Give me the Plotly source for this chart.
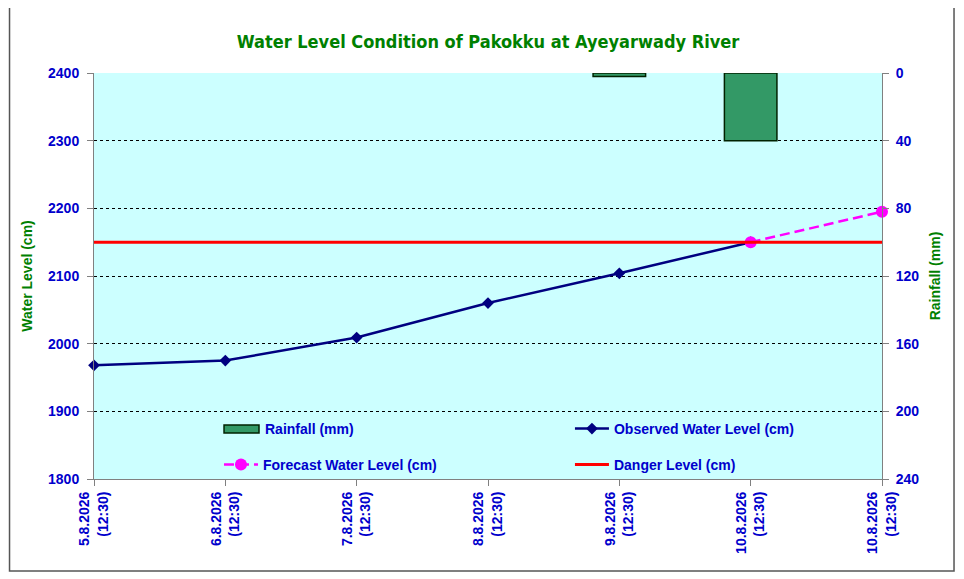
import plotly.graph_objects as go

# Data
dates = ["5.8.2026", "6.8.2026", "7.8.2026", "8.8.2026", "9.8.2026", "10.8.2026", "10.8.2026"]
times = ["(12:30)"] * 7
x_pos = [0, 1, 2, 3, 4, 5, 6]

observed_x = [0, 1, 2, 3, 4, 5]
observed_level = [1968, 1975, 2009, 2060, 2104, 2150]

forecast_x = [5, 6]
forecast_level = [2150, 2195]

rain_x = [4, 5]
rainfall = [2, 40]

danger_x = [0, 6]
danger_level = [2150, 2150]

tick_text = [f"{d}<br>{t}" for d, t in zip(dates, times)]

BLUE = "#0000CC"
GREEN = "#008000"
FONT = "Liberation Sans, Arial, sans-serif"
BAR_FILL = "#339966"
BAR_EDGE = "#002200"

fig = go.Figure()

# Rainfall bars hanging from the top (reversed right axis)
fig.add_trace(go.Bar(
    x=rain_x, y=rainfall, yaxis="y2", name="Rainfall (mm)",
    width=0.4, showlegend=False,
    marker=dict(color=BAR_FILL, line=dict(color=BAR_EDGE, width=1.5)),
))

fig.add_trace(go.Scatter(
    x=observed_x, y=observed_level, mode="lines+markers",
    name="Observed Water Level (cm)",
    line=dict(color="#000080", width=2.5),
    marker=dict(symbol="diamond", size=9, color="#000080"),
    cliponaxis=False,
    legend="legend",
))

fig.add_trace(go.Scatter(
    x=forecast_x, y=forecast_level, mode="lines+markers",
    name="Forecast Water Level (cm)",
    line=dict(color="#FF00FF", width=2.5, dash="10px,5px"),
    marker=dict(symbol="circle", size=12, color="#FF00FF"),
    cliponaxis=False,
    legend="legend2",
))

fig.add_trace(go.Scatter(
    x=danger_x, y=danger_level, mode="lines",
    name="Danger Level (cm)",
    line=dict(color="#FF0000", width=3),
    legend="legend3",
))

legend_font = dict(family=FONT, size=14, color=BLUE, weight="bold")


def legend_box(x, y):
    return dict(
        x=x, y=y, xanchor="left", yanchor="middle",
        bgcolor="rgba(0,0,0,0)", font=legend_font, itemwidth=34,
    )


fig.update_layout(
    width=956, height=571,
    margin=dict(l=86, r=82, t=65, b=100),
    paper_bgcolor="white",
    plot_bgcolor="#CCFFFF",
    showlegend=True,
    title=dict(
        text="Water Level Condition of Pakokku at Ayeyarwady River",
        x=0.5, xref="paper", xanchor="center",
        y=0.9405, yref="container", yanchor="middle",
        font=dict(family="DejaVu Sans Condensed, sans-serif",
                  size=18, color=GREEN, weight="bold"),
    ),
    xaxis=dict(
        range=[0, 6], tickvals=x_pos, ticktext=tick_text, tickangle=-90,
        tickfont=dict(family=FONT, size=14, color=BLUE, weight="bold"),
        showgrid=False, zeroline=False,
        showline=True, linecolor="#808080", linewidth=1,
        ticks="outside", ticklen=6, tickcolor="#808080",
    ),
    yaxis=dict(
        range=[1800, 2400], dtick=100,
        title=dict(text="Water Level (cm)", standoff=12,
                   font=dict(family=FONT, size=14, color=GREEN, weight="bold")),
        tickfont=dict(family=FONT, size=14, color=BLUE, weight="bold"),
        ticklabelstandoff=5,
        showgrid=True, gridcolor="#000000", griddash="dot", gridwidth=1,
        zeroline=False, showline=True, linecolor="#808080", linewidth=1,
        ticks="outside", ticklen=6, tickcolor="#808080",
    ),
    yaxis2=dict(
        range=[240, 0], dtick=40, overlaying="y", side="right",
        title=dict(text="Rainfall (mm)", standoff=11,
                   font=dict(family=FONT, size=14, color=GREEN, weight="bold")),
        tickfont=dict(family=FONT, size=14, color=BLUE, weight="bold"),
        ticklabelstandoff=4,
        showgrid=False, zeroline=False, showline=True, linecolor="#808080", linewidth=1,
        ticks="outside", ticklen=6, tickcolor="#808080",
    ),
    legend=legend_box(0.604, 0.1232),
    legend2=legend_box(0.1586, 0.0345),
    legend3=legend_box(0.604, 0.0345),
    shapes=[
        # outer chart frame
        dict(type="rect", xref="paper", yref="paper",
             x0=-0.1072, x1=1.0914, y0=-0.2266, y1=1.1675,
             line=dict(color="#555555", width=1.5), fillcolor="rgba(0,0,0,0)", layer="below"),
        # rainfall legend swatch
        dict(type="rect", xref="paper", yref="paper",
             x0=0.165, x1=0.2094, y0=0.1133, y1=0.133,
             line=dict(color=BAR_EDGE, width=1.5), fillcolor=BAR_FILL),
    ],
    annotations=[dict(
        text="Rainfall (mm)", xref="paper", yref="paper",
        x=0.2145, y=0.1232, xanchor="left", yanchor="middle", showarrow=False,
        font=legend_font,
    )],
)

fig.write_html("out.html")
